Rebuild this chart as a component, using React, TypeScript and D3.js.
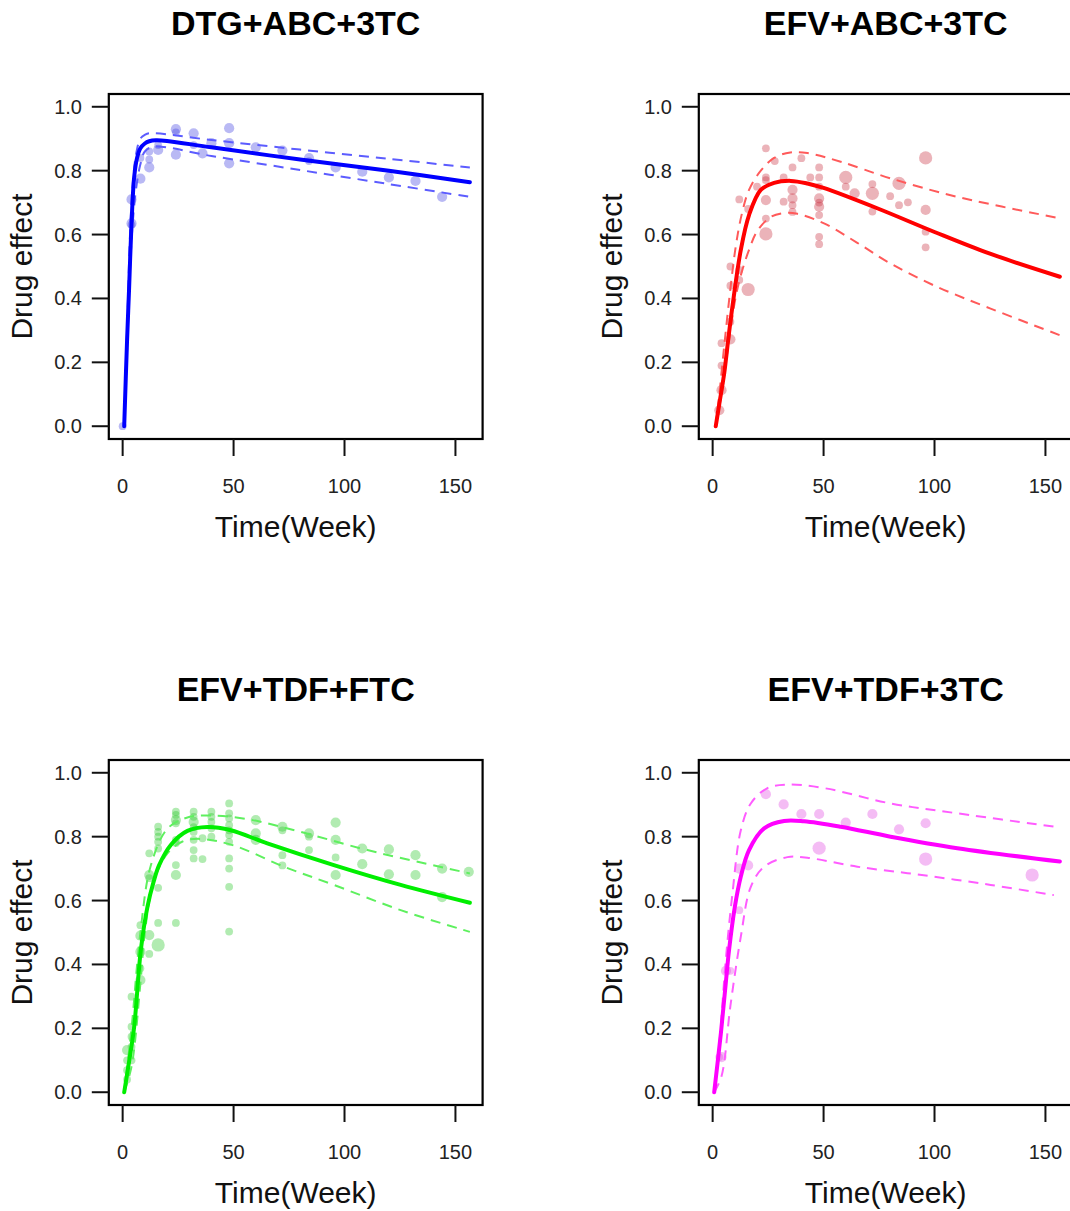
import React from 'react';
import * as d3 from 'd3';

// ---------- axis ticks ----------
const xTicks = [0, 50, 100, 150];
const yTicks = [0, 0.2, 0.4, 0.6, 0.8, 1.0];

// ---------- Panel 1: DTG+ABC+3TC ----------
const dtgObsT = [0, 4, 4, 4, 8, 8, 12, 12, 12, 16, 16, 24, 24, 24, 32, 32, 36, 40, 48, 48, 48, 60, 72, 84, 84, 96, 108, 120, 132, 144];
const dtgObsV = [0.0, 0.71, 0.635, 0.63, 0.775, 0.84, 0.81, 0.835, 0.86, 0.865, 0.88, 0.93, 0.92, 0.85, 0.917, 0.88, 0.854, 0.886, 0.933, 0.886, 0.823, 0.873, 0.863, 0.839, 0.83, 0.81, 0.797, 0.779, 0.768, 0.718];
const dtgObsN = [1, 2, 2, 1, 2, 1, 2, 1, 1, 2, 1, 2, 1, 2, 2, 1, 2, 2, 2, 2, 2, 2, 2, 2, 1, 2, 2, 2, 2, 2];
const dtgMeanT = [0.7, 2, 2.9, 4, 5.2, 6.5, 8, 10, 12, 15, 20, 40, 80, 120, 156.5];
const dtgMeanV = [0, 0.27, 0.43, 0.635, 0.78, 0.84, 0.87, 0.885, 0.892, 0.895, 0.893, 0.873, 0.835, 0.8, 0.764];
const dtgUpT = [0.7, 2, 4, 6, 8, 10, 12, 40, 80, 120, 156.5];
const dtgUpV = [0, 0.3, 0.7, 0.85, 0.9, 0.912, 0.917, 0.896, 0.866, 0.837, 0.81];
const dtgLoT = [0.7, 2, 4, 6, 8, 10, 14, 40, 80, 120, 156.5];
const dtgLoV = [0, 0.24, 0.58, 0.74, 0.82, 0.86, 0.875, 0.846, 0.802, 0.758, 0.718];

// ---------- Panel 2: EFV+ABC+3TC ----------
const eaObsT = [3, 4, 4, 4, 8, 8, 8, 8, 12, 12, 12, 16, 16, 20, 24, 24, 24, 24, 24, 24, 28, 32, 32, 36, 36, 36, 36, 36, 40, 44, 48, 48, 48, 48, 48, 48, 48, 48, 48, 60, 60, 64, 72, 72, 72, 80, 84, 84, 88, 96, 96, 96, 96];
const eaObsV = [0.05, 0.113, 0.19, 0.26, 0.327, 0.272, 0.5, 0.44, 0.489, 0.458, 0.71, 0.428, 0.68, 0.75, 0.87, 0.779, 0.77, 0.708, 0.65, 0.602, 0.83, 0.779, 0.703, 0.81, 0.74, 0.713, 0.692, 0.671, 0.839, 0.779, 0.81, 0.779, 0.75, 0.713, 0.70, 0.687, 0.661, 0.593, 0.57, 0.779, 0.75, 0.729, 0.758, 0.729, 0.672, 0.72, 0.76, 0.692, 0.701, 0.84, 0.677, 0.609, 0.56];
const eaObsN = [2, 2, 1, 1, 1, 2, 1, 1, 1, 1, 1, 3, 1, 1, 1, 1, 1, 2, 1, 3, 1, 1, 1, 1, 2, 2, 1, 1, 1, 1, 1, 1, 1, 2, 1, 2, 1, 1, 1, 3, 1, 2, 1, 3, 1, 1, 3, 1, 1, 3, 2, 1, 1];
const eaMeanT = [1.4, 3, 5.2, 7, 8.9, 12.7, 16.4, 21.7, 27.7, 35.2, 42.7, 50, 75, 100, 125, 156.5];
const eaMeanV = [0, 0.07, 0.165, 0.27, 0.374, 0.552, 0.661, 0.74, 0.762, 0.768, 0.76, 0.746, 0.68, 0.608, 0.54, 0.468];
const eaUpT = [1.4, 3, 5.2, 8, 10.4, 13, 16.4, 21.7, 27.7, 35, 42.7, 57.7, 80.2, 110.3, 156.5];
const eaUpV = [0, 0.1, 0.25, 0.43, 0.562, 0.66, 0.74, 0.8, 0.84, 0.857, 0.855, 0.828, 0.776, 0.718, 0.651];
const eaLoT = [1.4, 4, 7, 10.4, 13, 16.4, 20, 26.2, 32, 38.2, 50.2, 65, 80, 100, 125, 156.5];
const eaLoV = [0, 0.1, 0.25, 0.405, 0.48, 0.552, 0.61, 0.655, 0.667, 0.665, 0.635, 0.575, 0.51, 0.44, 0.369, 0.285];

// ---------- Panel 3: EFV+TDF+FTC ----------
const etfObsT = [2, 2, 2, 2, 4, 4, 4, 4, 4, 8, 8, 8, 8, 8, 12, 12, 12, 12, 12, 16, 16, 16, 16, 16, 16, 16, 16, 24, 24, 24, 24, 24, 24, 24, 24, 24, 32, 32, 32, 32, 32, 32, 32, 32, 36, 36, 40, 40, 40, 40, 40, 48, 48, 48, 48, 48, 48, 48, 48, 48, 48, 48, 60, 60, 60, 72, 72, 72, 72, 84, 84, 84, 96, 96, 96, 96, 108, 108, 120, 120, 132, 132, 144, 144, 156];
const etfObsV = [0.04, 0.069, 0.1, 0.132, 0.1, 0.142, 0.174, 0.205, 0.299, 0.351, 0.388, 0.44, 0.49, 0.523, 0.433, 0.492, 0.67, 0.68, 0.748, 0.461, 0.53, 0.64, 0.763, 0.784, 0.8, 0.815, 0.831, 0.53, 0.68, 0.711, 0.78, 0.79, 0.842, 0.852, 0.868, 0.878, 0.732, 0.758, 0.79, 0.815, 0.83, 0.846, 0.862, 0.878, 0.73, 0.795, 0.8, 0.826, 0.846, 0.862, 0.878, 0.503, 0.643, 0.7, 0.732, 0.784, 0.805, 0.82, 0.836, 0.857, 0.873, 0.904, 0.79, 0.81, 0.852, 0.71, 0.742, 0.82, 0.831, 0.758, 0.8, 0.81, 0.68, 0.735, 0.79, 0.844, 0.714, 0.763, 0.682, 0.76, 0.68, 0.742, 0.611, 0.7, 0.69];
const etfObsN = [1, 1, 1, 2, 1, 1, 1, 1, 1, 2, 1, 2, 2, 1, 1, 2, 1, 2, 1, 3, 1, 1, 1, 1, 1, 1, 1, 1, 2, 1, 1, 1, 1, 2, 1, 1, 1, 1, 1, 1, 1, 2, 1, 1, 1, 1, 1, 1, 1, 1, 1, 1, 1, 1, 1, 1, 1, 1, 1, 1, 1, 1, 2, 2, 2, 1, 1, 1, 2, 1, 1, 2, 2, 1, 2, 2, 2, 2, 2, 2, 2, 2, 2, 2, 2];
const etfMeanT = [0.7, 3, 5.2, 8.2, 11.2, 14, 16.4, 21.7, 29.2, 38.2, 48.7, 65.2, 95.2, 125.3, 156.5];
const etfMeanV = [0, 0.1, 0.205, 0.445, 0.581, 0.66, 0.71, 0.774, 0.818, 0.83, 0.82, 0.779, 0.711, 0.649, 0.593];
const etfUpT = [0.7, 4, 8, 12.7, 20.2, 29.2, 39.7, 56.2, 80.2, 110.3, 156.5];
const etfUpV = [0, 0.2, 0.5, 0.71, 0.825, 0.86, 0.866, 0.855, 0.815, 0.758, 0.685];
const etfLoT = [0.7, 4, 8, 10, 14.2, 20.2, 27, 35.2, 50.2, 72.7, 95.2, 125.3, 156.5];
const etfLoV = [0, 0.08, 0.34, 0.5, 0.664, 0.748, 0.785, 0.793, 0.772, 0.706, 0.649, 0.57, 0.502];

// ---------- Panel 4: EFV+TDF+3TC ----------
const et3ObsT = [3, 4, 6, 8, 12, 12, 16, 24, 32, 40, 48, 48, 60, 72, 84, 96, 96, 144];
const et3ObsV = [0.11, 0.11, 0.38, 0.38, 0.57, 0.70, 0.71, 0.933, 0.901, 0.871, 0.871, 0.764, 0.844, 0.871, 0.823, 0.842, 0.73, 0.68];
const et3ObsN = [1, 2, 2, 1, 1, 2, 2, 2, 2, 2, 2, 3, 2, 2, 2, 2, 3, 3];
const et3MeanT = [0.7, 3.7, 5.9, 7.4, 10, 12.7, 16.4, 23.2, 32.2, 41.2, 57.7, 80.2, 110.3, 156.5];
const et3MeanV = [0, 0.184, 0.34, 0.445, 0.58, 0.675, 0.758, 0.826, 0.849, 0.848, 0.831, 0.8, 0.764, 0.722];
const et3UpT = [0.7, 3, 6, 8.9, 12.7, 17.2, 24.7, 33.7, 50.2, 80.2, 110.3, 156.5];
const et3UpV = [0, 0.15, 0.42, 0.62, 0.82, 0.904, 0.952, 0.963, 0.952, 0.904, 0.873, 0.829];
const et3LoT = [0.7, 4, 8, 12.7, 17.2, 23.2, 33.7, 42.7, 65.2, 94.3, 125.3, 153.8];
const et3LoV = [0, 0.05, 0.27, 0.487, 0.643, 0.706, 0.736, 0.734, 0.706, 0.68, 0.649, 0.617];

const titles = ['DTG+ABC+3TC', 'EFV+ABC+3TC', 'EFV+TDF+FTC', 'EFV+TDF+3TC'];
const lineColors = ['#0000ff', '#ff0000', '#00ee00', '#ff00ff'];
const dashColors = ['#5c5cff', '#ff5a5a', '#5ef05e', '#ff5cff'];
const pointColors = ['rgb(60,60,225)', 'rgb(200,45,60)', 'rgb(40,200,40)', 'rgb(225,70,225)'];

const zip = (a: number[], b: number[]) => a.map((v, i) => [v, b[i]] as [number, number]);

const panelData = [
  { obsT: dtgObsT, obsV: dtgObsV, obsN: dtgObsN, mean: zip(dtgMeanT, dtgMeanV), up: zip(dtgUpT, dtgUpV), lo: zip(dtgLoT, dtgLoV) },
  { obsT: eaObsT, obsV: eaObsV, obsN: eaObsN, mean: zip(eaMeanT, eaMeanV), up: zip(eaUpT, eaUpV), lo: zip(eaLoT, eaLoV) },
  { obsT: etfObsT, obsV: etfObsV, obsN: etfObsN, mean: zip(etfMeanT, etfMeanV), up: zip(etfUpT, etfUpV), lo: zip(etfLoT, etfLoV) },
  { obsT: et3ObsT, obsV: et3ObsV, obsN: et3ObsN, mean: zip(et3MeanT, et3MeanV), up: zip(et3UpT, et3UpV), lo: zip(et3LoT, et3LoV) },
];

const offsets = [[0, 0], [590, 0], [0, 666], [590, 666]];

const FONT = "'Liberation Sans', Arial, Helvetica, sans-serif";
const L = 108.8, R = 482.6, T = 94, B = 439;

const xs = d3.scaleLinear().domain([-6.24, 162.24]).range([L, R]);
const ys = d3.scaleLinear().domain([-0.04, 1.04]).range([B, T]);
const radius = (n: number) => (n === 1 ? 3.9 : n === 2 ? 5.1 : 6.6);

const lineGen = d3
  .line<[number, number]>()
  .x((d) => xs(d[0]))
  .y((d) => ys(d[1]))
  .curve(d3.curveCatmullRom.alpha(0.5));

function Panel({ i }: { i: number }) {
  const p = panelData[i];
  const [dx, dy] = offsets[i];
  const cx = (L + R) / 2;
  const clipId = `clip${i}`;
  return (
    <g transform={`translate(${dx},${dy})`}>
      <defs>
        <clipPath id={clipId}>
          <rect x={L} y={T} width={R - L} height={B - T} />
        </clipPath>
      </defs>
      <text x={cx} y={35} textAnchor="middle" fontFamily={FONT} fontWeight="bold" fontSize={34} fill="#000">
        {titles[i]}
      </text>
      <g clipPath={`url(#${clipId})`}>
        {p.obsT.map((t, k) => (
          <circle key={k} cx={xs(t)} cy={ys(p.obsV[k])} r={radius(p.obsN[k])} fill={pointColors[i]} fillOpacity={0.36} />
        ))}
        <path d={lineGen(p.up) || ''} fill="none" stroke={dashColors[i]} strokeWidth={2} strokeDasharray="10,7" />
        <path d={lineGen(p.lo) || ''} fill="none" stroke={dashColors[i]} strokeWidth={2} strokeDasharray="10,7" />
        <path d={lineGen(p.mean) || ''} fill="none" stroke={lineColors[i]} strokeWidth={4} strokeLinecap="round" />
      </g>
      <rect x={L} y={T} width={R - L} height={B - T} fill="none" stroke="#000" strokeWidth={2.2} />
      {xTicks.map((t) => (
        <g key={t}>
          <line x1={xs(t)} x2={xs(t)} y1={B} y2={B + 17} stroke="#111" strokeWidth={2} />
          <text x={xs(t)} y={493} textAnchor="middle" fontFamily={FONT} fontSize={20} fill="#222">
            {t}
          </text>
        </g>
      ))}
      {yTicks.map((v) => (
        <g key={v}>
          <line x1={L - 17} x2={L} y1={ys(v)} y2={ys(v)} stroke="#111" strokeWidth={2} />
          <text x={82} y={ys(v) + 7} textAnchor="end" fontFamily={FONT} fontSize={20} fill="#222">
            {v.toFixed(1)}
          </text>
        </g>
      ))}
      <text x={cx} y={537} textAnchor="middle" fontFamily={FONT} fontSize={30} fill="#111">
        Time(Week)
      </text>
      <text transform={`translate(32,${(T + B) / 2}) rotate(-90)`} textAnchor="middle" fontFamily={FONT} fontSize={30} fill="#111">
        Drug effect
      </text>
    </g>
  );
}

export default function App() {
  return (
    <svg
      width={1070}
      height={1211}
      viewBox="0 0 1070 1211"
      style={{ position: 'absolute', left: 0, top: 0, background: '#fff' }}
    >
      <rect x={0} y={0} width={1070} height={1211} fill="#fff" />
      {[0, 1, 2, 3].map((i) => (
        <Panel key={i} i={i} />
      ))}
    </svg>
  );
}
